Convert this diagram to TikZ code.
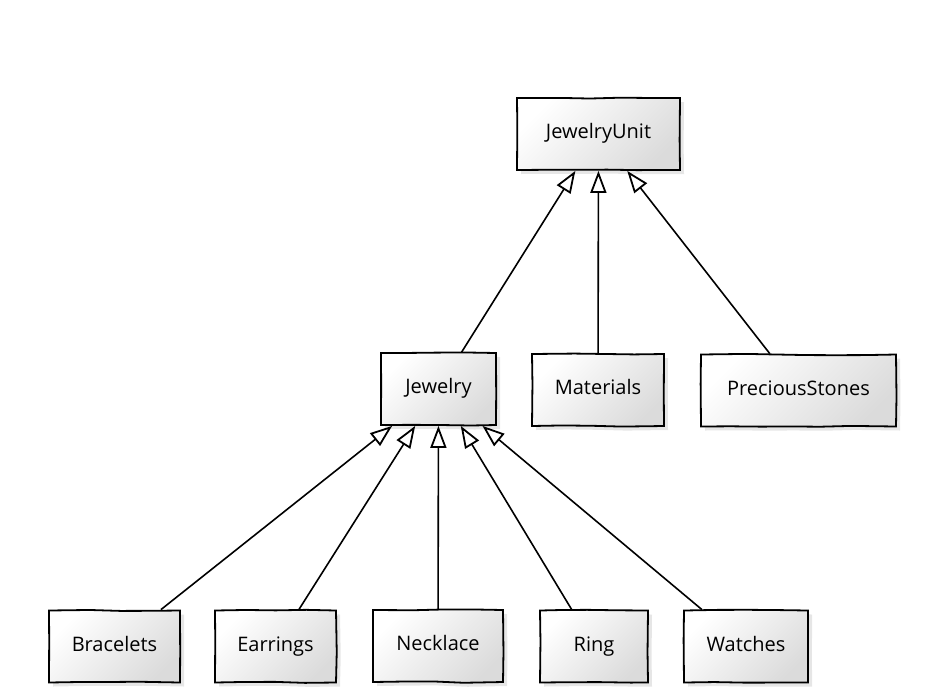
\documentclass[tikz,border=0pt]{standalone}
\usepackage{fontspec}
\setmainfont{Open Sans}
\usetikzlibrary{arrows.meta,shadows,decorations.pathmorphing}

\begin{document}
\begin{tikzpicture}[x=1pt,y=-1pt,
	cls/.style={draw=black, line width=1.8pt, minimum height=72pt, inner sep=0pt,
		top color=white, bottom color=black!14, shading angle=45,
		drop shadow={opacity=0.2, shadow xshift=4pt, shadow yshift=-4pt},
		decorate, decoration={random steps, segment length=30pt, amplitude=0.8pt},
		text height=1.2em, text depth=0.22em,
		font=\fontsize{20}{24}\selectfont},
	inh/.style={line width=1.6pt, -{Triangle[fill=white, length=22pt, width=16pt, line width=1.8pt]}}]
				\useasboundingbox (0,0) rectangle (936,694);

				% classes: name / x / y / width / text
				\foreach \nm/\px/\py/\bw/\txt in {unit/598.5/134/163/JewelryUnit,
						jewelry/438.5/389/115/Jewelry, materials/598/390/132/Materials,
						stones/798.5/390.5/195/PreciousStones,
						bracelets/114.5/646.5/131/Bracelets, earrings/275.5/646.5/121/Earrings,
						necklace/438/646/130/Necklace, ring/594/646.5/108/Ring,
						watches/746/646.5/124/Watches} {
					\node[cls, minimum width=\bw pt] (\nm) at (\px,\py) {\txt};
				}

				% generalisations
				\foreach \a/\b in {jewelry/unit, materials/unit, stones/unit,
						bracelets/jewelry, earrings/jewelry, necklace/jewelry,
						ring/jewelry, watches/jewelry} {
					\draw[inh] (\a) -- (\b);
				}
			\end{tikzpicture}
\end{document}
